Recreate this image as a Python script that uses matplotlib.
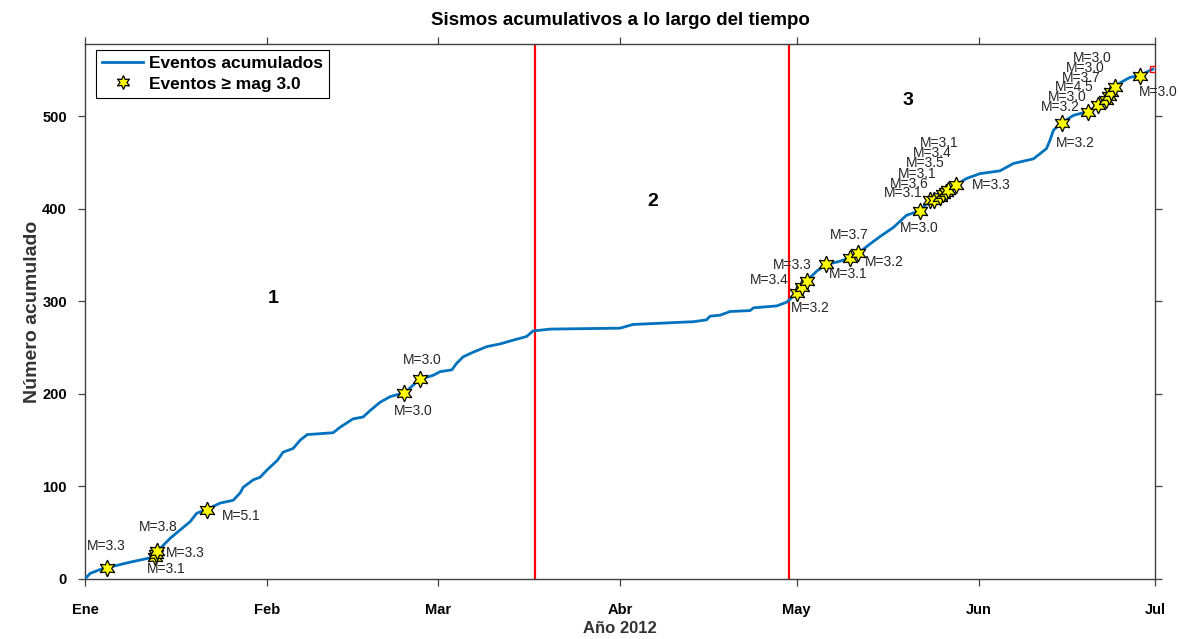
import datetime as dt

import matplotlib
matplotlib.use("Agg")
import matplotlib.pyplot as plt
import matplotlib.dates as mdates
import numpy as np
from matplotlib.lines import Line2D

plt.rcParams["font.family"] = ["Liberation Sans", "DejaVu Sans"]

# Cumulative event curve (days since 1 Jan 2012, running count)
curve_day = [0, 0.9, 2.5, 3.7, 7.6, 10.5, 11.3, 11.9, 12.1, 12.3, 12.8, 14.5,
             16.2, 17.9, 19.0, 20.7, 23.0, 25.2, 26.4, 26.9, 28.6, 29.8, 31.0,
             32.7, 33.7, 35.4, 36.6, 37.8, 42.2, 43.4, 45.6, 47.3, 48.5, 50.2,
             51.9, 53.6, 54.3, 57.0, 59.2, 60.4, 62.4, 63.2, 64.3, 66.0, 68.3,
             70.6, 72.8, 75.1, 76.2, 79.1, 91.0, 93.2, 103.5, 105.7, 106.3,
             108.0, 109.7, 113.1, 113.7, 117.6, 119.3, 120.2, 121.0, 121.9,
             122.7, 124.5, 126.1, 128.2, 130.1, 131.5, 133.5, 135.2, 137.5,
             139.7, 142.0, 143.7, 144.4, 145.4, 145.9, 146.4, 146.8, 148.1,
             150.0, 152.2, 155.6, 157.9, 161.3, 163.5, 164.1, 164.7, 166.1,
             168.1, 170.5, 172.3, 173.6, 174.1, 174.5, 175.2, 176.0, 177.7,
             179.4, 180.3, 181.6]
curve_count = [0, 6, 10, 12, 18, 22, 23, 24, 27, 30, 33, 44,
               53, 62, 71, 75, 82, 85, 93, 99, 107, 110, 118,
               128, 137, 141, 150, 156, 158, 164, 173, 175, 182, 191,
               197, 200, 201, 216, 220, 224, 226, 233, 240, 245, 251,
               254, 258, 262, 268, 270, 271, 275, 278, 280, 284,
               285, 289, 290, 293, 295, 299, 304, 309, 316,
               322, 333, 340, 343, 347, 352, 362, 370, 380,
               393, 398, 409, 410, 413, 416, 418, 420, 426,
               433, 438, 441, 449, 454, 465, 474, 485, 493,
               501, 505, 512, 518, 522, 526, 532, 536, 542,
               544, 547, 551]

# Events with magnitude >= 3.0
star_day = [3.7, 11.9, 12.1, 12.3, 20.7, 54.3, 57.0, 121.0, 121.9, 122.7,
            126.1, 130.1, 131.5, 142.0, 143.7, 144.4, 145.4, 145.9, 146.4,
            146.8, 148.1, 166.1, 170.5, 172.3, 173.6, 174.1, 174.5, 175.2,
            179.4]
star_count = [12, 24, 27, 30, 75, 201, 216, 309, 316, 322,
              340, 347, 352, 398, 409, 410, 413, 416, 418,
              420, 426, 493, 505, 512, 518, 522, 526, 532,
              544]
star_mag = [3.3, 3.1, 3.8, 3.3, 5.1, 3.0, 3.0, 3.2, 3.4, 3.3,
            3.1, 3.7, 3.2, 3.0, 3.1, 3.6, 3.1, 3.5, 3.4,
            3.1, 3.3, 3.2, 3.2, 3.0, 4.5, 3.7, 3.0, 3.0,
            3.0]

# Label placement relative to each star (pixels)
label_offset = [(0, 22), (11, -12), (2, 27), (28, -2), (35, -6), (9, -18),
                (2, 19), (14, -15), (-33, 7), (-14, 16), (22, -10), (-1, 23),
                (26, -9), (-1, -17), (-27, 7), (-25, 16), (-23, 23), (-18, 31),
                (-14, 39), (-9, 47), (35, 0), (14, -20), (-27, 5), (-31, 8),
                (-32, 13), (-28, 18), (-26, 24), (-23, 29), (18, -16)]

# Period boundaries and period numbers
boundaries = [dt.datetime(2012, 3, 17, 12), dt.datetime(2012, 4, 29, 18)]
period_names = ["1", "2", "3"]
period_day = [32.0, 96.6, 140.0]
period_y = [303, 408, 517]

month_names = ["Ene", "Feb", "Mar", "Abr", "May", "Jun", "Jul"]

t0 = mdates.date2num(dt.datetime(2012, 1, 1))
cx = t0 + np.array(curve_day)
sx = t0 + np.array(star_day)

fig = plt.figure(figsize=(11.8, 6.39), dpi=100)
ax = fig.add_axes([0.072, 0.094, 0.907, 0.837])

ax.plot(cx, curve_count, color="#0072BD", lw=2.0, zorder=3)
ax.plot(cx[-1], curve_count[-1], marker="s", ms=4.5, mfc="none",
        mec="red", mew=1.0, zorder=4)

for b in boundaries:
    ax.axvline(mdates.date2num(b), color="red", lw=1.6, zorder=2)

ax.plot(sx, star_count, ls="none", marker=(6, 1, 0), ms=12,
        mfc="#FFFF00", mec="black", mew=0.9, zorder=5)

for x, y, m, off in zip(sx, star_count, star_mag, label_offset):
    ax.annotate(f"M={m:.1f}", (x, y), xytext=off, textcoords="offset pixels",
                ha="center", va="center", fontsize=10, color="#262626",
                zorder=6)

for name, d, y in zip(period_names, period_day, period_y):
    ax.text(t0 + d, y, name, fontsize=14, fontweight="bold",
            ha="center", va="center")

month_ticks = [mdates.date2num(dt.datetime(2012, m, 1)) for m in range(1, 8)]
ax.set_xticks(month_ticks)
ax.set_xticklabels(month_names, fontweight="bold", fontsize=10.5)
ax.set_xlim(month_ticks[0], month_ticks[-1])
ax.set_ylim(0, 578)
ax.set_yticks([0, 100, 200, 300, 400, 500])
for lab in ax.get_yticklabels():
    lab.set_fontweight("bold")
    lab.set_fontsize(10.5)

ax.tick_params(direction="out", length=5, width=0.9, color="#404040",
               top=True, right=True)
ax.tick_params(axis="x", pad=12)
ax.tick_params(axis="y", pad=8)
for s in ax.spines.values():
    s.set_color("#404040")
    s.set_linewidth(1.0)

ax.set_title("Sismos acumulativos a lo largo del tiempo", fontsize=13.5,
             fontweight="bold", pad=14)
ax.set_xlabel("Año 2012", fontsize=12, fontweight="bold", color="#333333",
              labelpad=3)
ax.set_ylabel("Número acumulado", fontsize=14, fontweight="bold",
              color="#333333", labelpad=1)

handles = [
    Line2D([], [], color="#0072BD", lw=2.0),
    Line2D([], [], ls="none", marker=(6, 1, 0), ms=10, mfc="#FFFF00",
           mec="black", mew=0.9),
]
leg = ax.legend(handles, ["Eventos acumulados", "Eventos ≥ mag 3.0"],
                loc="upper left", bbox_to_anchor=(0.01, 0.989),
                borderaxespad=0, prop={"weight": "bold", "size": 12.5},
                fancybox=False, framealpha=1, edgecolor="black",
                handlelength=2.4, handletextpad=0.3, borderpad=0.35,
                labelspacing=0.3)
leg.get_frame().set_linewidth(0.8)

fig.savefig("out.png", dpi=100)
